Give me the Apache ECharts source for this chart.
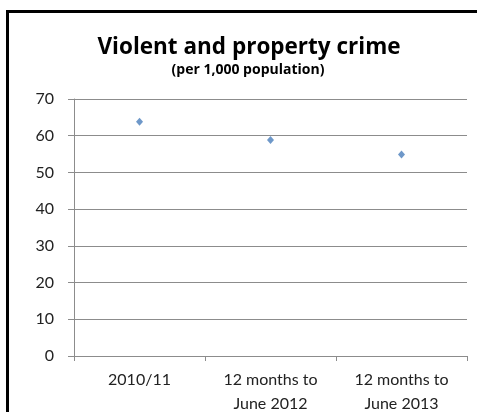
<!DOCTYPE html>
<html>
<head>
<meta charset="utf-8">
<script src="https://cdn.jsdelivr.net/npm/echarts@6/dist/echarts.min.js"></script>
<style>
html,body{margin:0;padding:0;background:#fff;}
#c{width:477px;height:412px;}
</style>
</head>
<body>
<div id="c"></div>
<script>
const categories = ['2010/11', '12 months to\nJune 2012', '12 months to\nJune 2013'];
const crimeRate = [63.8, 58.8, 54.9];
const yTicks = {min: 0, max: 70, interval: 10};

const chart = echarts.init(document.getElementById('c'), null, {renderer: 'canvas'});
chart.setOption({
  animation: false,
  backgroundColor: '#fff',
  title: [{
    text: 'Violent and property crime',
    left: 244, top: 31, textAlign: 'center',
    textStyle: {fontFamily: 'Open Sans', fontWeight: 'bold', fontSize: 22.5, color: '#000'}
  }, {
    text: '(per 1,000 population)',
    left: 243, top: 58, textAlign: 'center',
    textStyle: {fontFamily: 'Open Sans', fontWeight: 'bold', fontSize: 14, color: '#000'}
  }],
  graphic: [{
    type: 'rect',
    shape: {x: 7.5, y: 11.5, width: 600, height: 600},
    style: {fill: null, stroke: '#000', lineWidth: 3},
    silent: true
  }],
  grid: {left: 74, right: 10, top: 99, bottom: 56, containLabel: false, outerBoundsMode: 'none'},
  xAxis: {
    type: 'category',
    data: categories,
    boundaryGap: true,
    axisLine: {lineStyle: {color: '#8c8c8c', width: 1}},
    axisTick: {show: true, length: 5, alignWithLabel: false, lineStyle: {color: '#8c8c8c'}},
    axisLabel: {fontFamily: 'Lato', fontSize: 16, color: '#222', margin: 12, lineHeight: 24, interval: 0}
  },
  yAxis: {
    type: 'value',
    min: yTicks.min, max: yTicks.max, interval: yTicks.interval,
    axisLine: {show: true, lineStyle: {color: '#8c8c8c', width: 1}},
    axisTick: {show: true, length: 6, lineStyle: {color: '#8c8c8c'}},
    axisLabel: {fontFamily: 'Lato', fontSize: 16, color: '#222', margin: 20},
    splitLine: {lineStyle: {color: '#8c8c8c', width: 1}}
  },
  series: [{
    type: 'scatter',
    data: crimeRate,
    symbol: 'diamond',
    symbolSize: [7, 8],
    itemStyle: {color: '#4a7ebb'}
  }]
});
</script>
</body>
</html>
